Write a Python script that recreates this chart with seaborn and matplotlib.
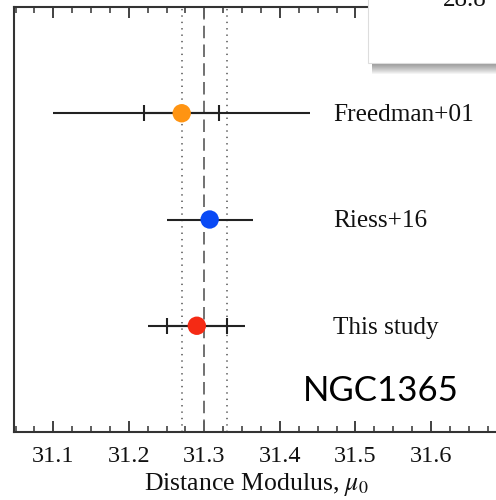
import matplotlib
matplotlib.use("Agg")
import matplotlib.pyplot as plt
from matplotlib.ticker import MultipleLocator, FormatStrFormatter
from matplotlib.patches import Rectangle
import seaborn as sns
import pandas as pd

# ---- data ----
studies = ["Freedman+01", "Riess+16", "This study"]
mu = [31.27, 31.307, 31.29]
ypos = [3, 2, 1]
err_total = [0.17, 0.057, 0.064]
inner_mu = [31.27, 31.29]
inner_y = [3, 1]
err_inner = [0.05, 0.04]
colors = ["#FF9412", "#0A4AF5", "#F52A14"]
ref_line = 31.30
ref_band = [31.27, 31.33]
galaxy = "NGC1365"
inset_text = "28.8"

sns.set_theme(style="ticks")
SERIF = ["Liberation Serif", "DejaVu Serif"]
plt.rcParams["font.family"] = SERIF
plt.rcParams["mathtext.fontset"] = "stix"
plt.rcParams["lines.scale_dashes"] = False

W, H = 496, 500
fig = plt.figure(figsize=(W / 100, H / 100), dpi=100)
fig.patch.set_facecolor("white")
ax = fig.add_axes([14 / W, 68 / H, 485 / W, 425 / H])
ax.set_facecolor("white")

ax.set_xlim(31.048, 31.690)
ax.set_ylim(0, 4)

# reference lines
ax.axvline(ref_line, color="#666666", lw=1.3, dashes=(9, 4.5), zorder=1)
for v in ref_band:
    ax.axvline(v, color="#777777", lw=1.4, dashes=(1.0, 3.6), zorder=1)

# error bars
ax.errorbar(mu, ypos, xerr=err_total, fmt="none", ecolor="#222222",
            elinewidth=1.5, capsize=0, zorder=2)
ax.errorbar(inner_mu, inner_y, xerr=err_inner, fmt="none", ecolor="#222222",
            elinewidth=1.5, capsize=5.5, capthick=1.5, zorder=2)

df = pd.DataFrame({"study": studies, "mu": mu, "y": ypos})
sns.scatterplot(data=df, x="mu", y="y", hue="study", palette=colors, s=175,
                edgecolor="none", legend=False, ax=ax, zorder=3)

for s, yy in zip(studies, ypos):
    ax.text(31.4705, yy - 0.075, s, fontsize=18.2, ha="left", va="baseline",
            color="#111111", family=SERIF)

ax.text(31.431, 0.29, galaxy, fontsize=25, ha="left", va="baseline",
        family=["Lato", "DejaVu Sans"], color="black")

# axes styling
for sp in ["left", "bottom", "top", "right"]:
    ax.spines[sp].set_color("#333333")
    ax.spines[sp].set_linewidth(1.5)
ax.set_yticks([])
ax.set_ylabel("")
ax.xaxis.set_major_locator(MultipleLocator(0.1))
ax.xaxis.set_minor_locator(MultipleLocator(0.025))
ax.xaxis.set_major_formatter(FormatStrFormatter("%.1f"))
ax.tick_params(axis="x", which="major", direction="in", top=True, bottom=True,
               length=8, width=1.3, color="#333333", labelsize=17.5, pad=10,
               labelcolor="#111111", labelfontfamily="Liberation Serif")
ax.tick_params(axis="x", which="minor", direction="in", top=True, bottom=True,
               length=4, width=1.1, color="#333333")
ax.set_xlabel(r"Distance Modulus, $\mu_0$", fontsize=18.5, color="#111111",
              labelpad=3, family=SERIF)

# overlapping inset box (top-right)
x0 = 368 / W
yb = 1 - 63 / H
for k in range(1, 12):
    fig.add_artist(Rectangle((x0 + 4 / W, yb - k / H), 1.0, 0.2,
                             transform=fig.transFigure, facecolor="black",
                             edgecolor="none", alpha=0.045, zorder=9))
fig.add_artist(Rectangle((x0, yb), 1.0, 0.2, transform=fig.transFigure,
                         facecolor="white", edgecolor="#dddddd", lw=0.8,
                         zorder=10))
fig.text(465 / W, 1 - 6 / H, inset_text, fontsize=18, ha="center",
         va="baseline", color="#111111", zorder=11, family=SERIF)

fig.savefig("out.png", dpi=100, facecolor="white")
